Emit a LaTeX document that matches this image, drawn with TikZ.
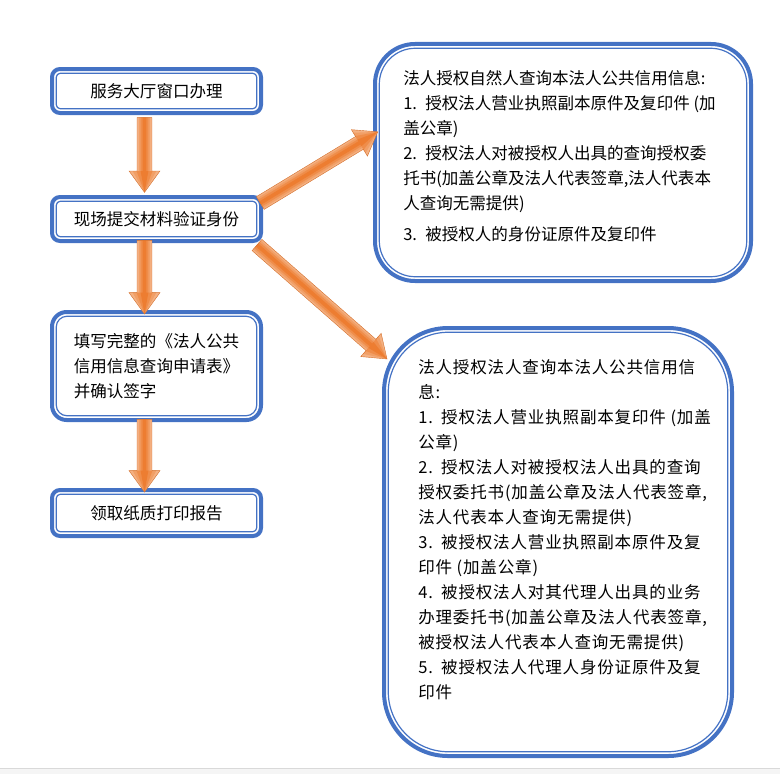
\documentclass[tikz,border=0pt]{standalone}
\usepackage{fontspec}
\setmainfont{Noto Sans CJK SC}
\newfontfamily\spacedfont[LetterSpace=5]{Noto Sans CJK SC}
\usetikzlibrary{positioning,calc}

\definecolor{boxblue}{HTML}{4472C4}
\definecolor{orangelight}{HTML}{F4B183}
\definecolor{orangedark}{HTML}{ED7D31}

% block arrow from #1 to #2, shaded in bands
\newcommand{\flowarrow}[2]{%
  \coordinate (fs) at (#1);
  \coordinate (ft) at (#2);
  \coordinate (fh) at ($(ft)!16pt!(fs)$);
  \foreach \w/\hw/\c in {5.6/11.6/orangelight, 4.3/8.9/orangedark!35!orangelight, 2.9/6/orangedark!70!orangelight, 1.4/2.9/orangedark}
    \fill[\c] ($(fs)!\w pt!90:(ft)$) -- ($(fh)!\w pt!90:(ft)$) -- ($(fh)!\hw pt!90:(ft)$) -- (ft)
      -- ($(fh)!\hw pt!-90:(ft)$) -- ($(fh)!\w pt!-90:(ft)$) -- ($(fs)!\w pt!-90:(ft)$) -- cycle;
  \draw[orangedark!90!black, line width=0.3pt, line join=miter] ($(fs)!5.6pt!90:(ft)$) -- ($(fh)!5.6pt!90:(ft)$) -- ($(fh)!11.6pt!90:(ft)$) -- (ft)
      -- ($(fh)!11.6pt!-90:(ft)$) -- ($(fh)!5.6pt!-90:(ft)$) -- ($(fs)!5.6pt!-90:(ft)$) -- cycle;
}

\begin{document}
\begin{tikzpicture}[x=0.75pt, y=-0.75pt, font=\fontsize{12.4pt}{18.75pt}\selectfont]

        % Styles
        \tikzset{
          stepbox/.style 2 args={draw=boxblue, line width=3pt, rounded corners=#1,
            minimum width=156.75pt, text centered,
            append after command={\pgfextra{\draw[boxblue, line width=0.9pt, rounded corners=#2]
              ([shift={(4.7pt,4.7pt)}]\tikzlastnode.south west) rectangle ([shift={(-4.7pt,-4.7pt)}]\tikzlastnode.north east);}}},
          notetext/.style={anchor=north west, inner sep=0pt, align=left}
        }

        \useasboundingbox (0,0) rectangle (780,774);
        \fill[gray!8] (0,768) rectangle (780,774);
        \draw[gray!30, line width=0.5pt] (0,768) -- (780,768);

        % Nodes
        \node [stepbox={6pt}{3pt}, minimum height=33pt] (hall) at (156.5,91) {服务大厅窗口办理};
        \node [stepbox={6pt}{3pt}, minimum height=33pt, below=60pt of hall] (onsite) {现场提交材料验证身份};
        \node [stepbox={11pt}{8pt}, minimum height=81pt, below=50.25pt of onsite, align=left] (fillform) {填写完整的《法人公共\\信用信息查询申请表》\\并确认签字};
        \node [stepbox={6pt}{3pt}, minimum height=34.5pt, below=49.5pt of fillform] (receive) {领取纸质打印报告};

        \node [stepbox={30pt}{27pt}, minimum width=282pt, minimum height=177.75pt] (person) at (563,162.5) {};
        \node [stepbox={48pt}{45pt}, minimum width=261pt, minimum height=321pt] (legal) at (558,542) {};

        \node [notetext] (persontext) at (403,70.5) {法人授权自然人查询本法人公共信用信息:\\
          1.\enspace 授权法人营业执照副本原件及复印件 (加\\
          盖公章)\\
          2.\enspace 授权法人对被授权人出具的查询授权委\\
          托书(加盖公章及法人代表签章,法人代表本\\
          人查询无需提供)\\[4pt]
          3.\enspace 被授权人的身份证原件及复印件};
        \node [notetext, font=\spacedfont\fontsize{12.4pt}{18.75pt}\selectfont] (legaltext) at (418,359.5) {法人授权法人查询本法人公共信用信\\
          息:\\
          1.\enspace 授权法人营业执照副本复印件 (加盖\\
          公章)\\
          2.\enspace 授权法人对被授权法人出具的查询\\
          授权委托书(加盖公章及法人代表签章,\\
          法人代表本人查询无需提供)\\
          3.\enspace 被授权法人营业执照副本原件及复\\
          印件 (加盖公章)\\
          4.\enspace 被授权法人对其代理人出具的业务\\
          办理委托书(加盖公章及法人代表签章,\\
          被授权法人代表本人查询无需提供)\\
          5.\enspace 被授权法人代理人身份证原件及复\\
          印件};

        % Arrows
        \flowarrow{[xshift=-9pt,yshift=-2pt]hall.south}{[xshift=-9pt,yshift=2pt]onsite.north}
        \flowarrow{[xshift=-9pt,yshift=2pt]onsite.south}{[xshift=-9pt,yshift=-3pt]fillform.north}
        \flowarrow{[xshift=-9pt,yshift=2pt]fillform.south}{[xshift=-9pt,yshift=-3pt]receive.north}
        \flowarrow{[xshift=-2pt,yshift=-6pt]onsite.north east}{[xshift=3.5pt,yshift=23pt]person.west}
        \flowarrow{[xshift=-4.5pt,yshift=-1.5pt]onsite.south east}{[xshift=3.75pt,yshift=-24.75pt]legal.north west}

\end{tikzpicture}
\end{document}
